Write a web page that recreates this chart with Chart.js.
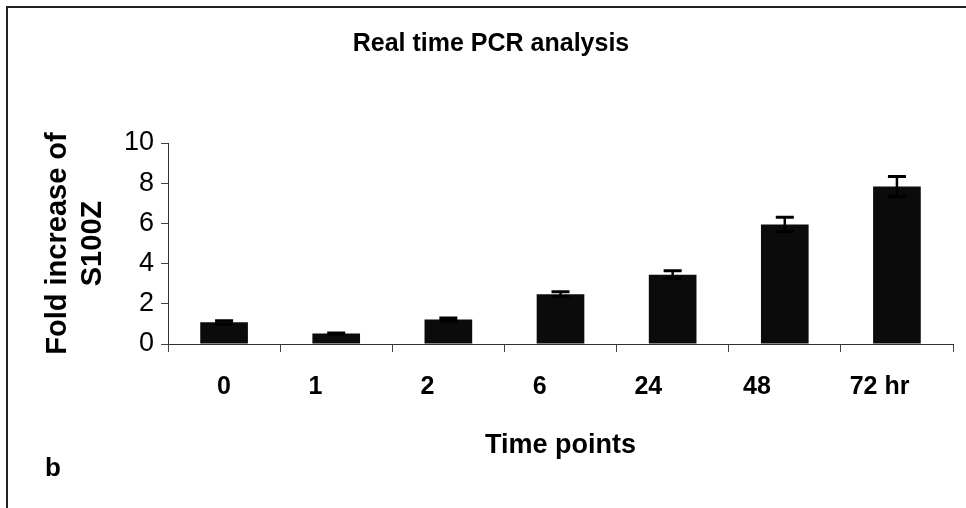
<!DOCTYPE html>
<html>
<head>
<meta charset="utf-8">
<script src="https://cdn.jsdelivr.net/npm/chart.js@4/dist/chart.umd.min.js"></script>
<style>
    html, body { margin: 0; padding: 0; background: #fff; }
    #wrap { position: relative; width: 966px; height: 508px; overflow: hidden; }
    #frame { position: absolute; left: 6px; top: 6px; width: 960px; height: 502px;
             border-left: 2px solid #222; border-top: 2px solid #222; pointer-events: none; }
    #panel { position: absolute; left: 45px; top: 452px; font: bold 26px "Liberation Sans", Arial, sans-serif; color: #000; }
    canvas { position: absolute; left: 0; top: 0; }
</style>
</head>
<body>
<div id="wrap">
    <canvas id="pcrChart" width="966" height="508"></canvas>
    <div id="frame"></div>
    <span id="panel">b</span>
</div>
<script>
// data
var timePoints = ['0', '1', '2', '6', '24', '48', '72 hr'];
var foldIncrease = [1.08, 0.52, 1.22, 2.48, 3.45, 5.95, 7.83];
var foldError = [0.08, 0.03, 0.07, 0.12, 0.2, 0.35, 0.5];
var yTicks = [0, 2, 4, 6, 8, 10];

// trailing spaces nudge the labels left like in the source figure
var labelPad = [0, 6, 6, 6, 7, 8, 5];

var fontFamily = '"Liberation Sans", Arial, sans-serif';

var errorBars = {
    id: 'errorBars',
    afterDatasetsDraw: function (chart) {
        var ctx = chart.ctx;
        var yScale = chart.scales.y;
        var meta = chart.getDatasetMeta(0);
        ctx.save();
        ctx.strokeStyle = '#000';
        meta.data.forEach(function (bar, i) {
            var top = yScale.getPixelForValue(foldIncrease[i] + foldError[i]);
            var bottom = yScale.getPixelForValue(foldIncrease[i] - foldError[i]);
            ctx.lineWidth = 2.5;
            ctx.beginPath();
            ctx.moveTo(bar.x, top);
            ctx.lineTo(bar.x, bottom);
            ctx.stroke();
            ctx.lineWidth = 3;
            ctx.beginPath();
            ctx.moveTo(bar.x - 9, top);
            ctx.lineTo(bar.x + 9, top);
            ctx.moveTo(bar.x - 9, bottom);
            ctx.lineTo(bar.x + 9, bottom);
            ctx.stroke();
        });
        ctx.restore();
    }
};

new Chart(document.getElementById('pcrChart').getContext('2d'), {
    type: 'bar',
    data: {
        labels: timePoints,
        datasets: [{
            label: 'Fold increase',
            data: foldIncrease,
            backgroundColor: '#0b0b0b',
            borderColor: '#000',
            borderWidth: 0,
            categoryPercentage: 1,
            barPercentage: 0.425
        }]
    },
    options: {
        responsive: false,
        animation: false,
        layout: { padding: { left: 29, right: 13, top: 0, bottom: 0 } },
        plugins: {
            legend: { display: false },
            tooltip: { enabled: false },
            title: {
                display: true,
                text: 'Real time PCR analysis',
                color: '#000',
                font: { family: fontFamily, size: 25, weight: 'bold' },
                padding: { top: 29, bottom: 84 }
            }
        },
        scales: {
            x: {
                grid: { display: true, drawOnChartArea: false, tickLength: 8, color: '#444', lineWidth: 1 },
                border: { display: true, color: '#333', width: 1 },
                ticks: {
                    color: '#000',
                    padding: 20,
                    maxRotation: 0,
                    font: { family: fontFamily, size: 25, weight: 'bold' },
                    callback: function (v, i) {
                        return timePoints[i] + ' '.repeat(labelPad[i]);
                    }
                },
                title: {
                    display: true,
                    text: 'Time points',
                    color: '#000',
                    font: { family: fontFamily, size: 27, weight: 'bold' },
                    padding: { top: 0, bottom: 46 }
                },
                afterFit: function (scale) { scale.height = 164; }
            },
            y: {
                min: 0,
                max: 10,
                grid: { display: true, drawOnChartArea: false, tickLength: 7, color: '#444', lineWidth: 1 },
                border: { display: true, color: '#333', width: 1 },
                afterBuildTicks: function (scale) {
                    scale.ticks = yTicks.map(function (v) { return { value: v }; });
                },
                ticks: {
                    color: '#000',
                    padding: 7,
                    font: { family: fontFamily, size: 27 }
                },
                title: {
                    display: true,
                    text: ['Fold increase of', 'S100Z'],
                    color: '#000',
                    font: { family: fontFamily, size: 29, weight: 'bold', lineHeight: 1.2 },
                    padding: { top: 12, bottom: 0 }
                },
                afterFit: function (scale) { scale.width = 139; }
            }
        }
    },
    plugins: [errorBars]
});
</script>
</body>
</html>
